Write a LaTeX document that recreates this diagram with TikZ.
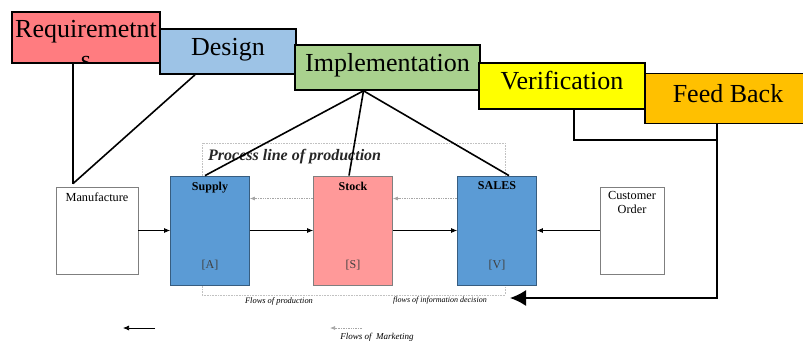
\documentclass[tikz,border=0pt]{standalone}
\usepackage{fontspec}
\setmainfont{Liberation Serif}
\usetikzlibrary{positioning,arrows.meta}

\definecolor{reqred}{HTML}{FF7C80}
\definecolor{designblue}{HTML}{9DC3E6}
\definecolor{implgreen}{HTML}{A9D18E}
\definecolor{verifyellow}{HTML}{FFFF00}
\definecolor{feedorange}{HTML}{FFC000}
\definecolor{flowblue}{HTML}{5B9BD5}
\definecolor{stockpink}{HTML}{FF9999}
\definecolor{edgegray}{HTML}{7F7F7F}
\definecolor{dotgray}{HTML}{A6A6A6}

\tikzset{
  phase/.style={draw, line width=1.6pt, inner sep=0pt, text height=18pt, text depth=11pt, font=\fontsize{26}{31}\selectfont},
  stage/.style={draw=edgegray, line width=0.8pt, inner sep=0pt, minimum width=79pt, minimum height=109pt},
  sidebox/.style={draw=edgegray, line width=0.8pt, inner sep=0pt, minimum height=87pt},
  boxtitle/.style={font=\fontsize{12}{14}\selectfont\bfseries, inner sep=0pt},
  boxtag/.style={font=\fontsize{12}{14}\selectfont, text=black!75, inner sep=0pt},
  link/.style={line width=1.6pt},
  flow/.style={line width=0.7pt, -{Latex[length=6pt,width=5pt]}},
  info/.style={draw=dotgray, densely dotted, line width=0.7pt, -{Latex[length=5pt,width=4pt]}},
  note/.style={font=\fontsize{8.4}{10}\selectfont\itshape, inner sep=0pt}
}

\begin{document}
\begin{tikzpicture}[x=1pt, y=-1pt]
  \useasboundingbox (0,0) rectangle (803,343);

  % Phases
  \node[phase, fill=reqred, minimum width=148pt, minimum height=51pt] (Req) at (86,37.5) {};
  \begin{scope}
    \clip ([shift={(0.8pt,0.8pt)}]Req.south west) rectangle ([shift={(-0.8pt,-0.8pt)}]Req.north east);
    \node[font=\fontsize{26}{31}\selectfont, align=center, anchor=base, inner sep=0pt] (Req-text) at (86,68) {Requiremetnt\\s};
  \end{scope}
  \node[phase, fill=designblue, minimum width=136pt, minimum height=45pt] (Design) at (228,51.5) {Design};
  \node[phase, fill=implgreen, minimum width=185pt, minimum height=45pt] (Impl) at (387.5,67.5) {Implementation};
  \node[phase, fill=verifyellow, minimum width=166pt, minimum height=46pt] (Verif) at (562,86) {Verification};
  \node[phase, fill=feedorange, minimum width=166pt, minimum height=50pt] (Feed) at (728,98.5) {Feed Back};

  % Process line
  \node[draw=dotgray!70, densely dotted, line width=0.6pt, minimum width=303pt, minimum height=152pt] (Process) at (353.5,219) {};
  \node[font=\fontsize{16}{19}\selectfont\bfseries\itshape, text=black!85, anchor=west, inner sep=0pt] (Process-title) at (208,157) {Process line of production};

  \node[sidebox, minimum width=82pt, label={[font=\fontsize{12.3}{14}\selectfont, inner sep=0pt, anchor=north, yshift=-6pt]north:Manufacture}] (Mfg) at (97,230.5) {};
  \node[stage, fill=flowblue, draw=flowblue!60!black, label={[boxtitle, anchor=north, yshift=-6pt]north:Supply}, label={[boxtag, anchor=south, yshift=15pt]south:{[A]}}] (Supply) at (210,230.5) {};
  \node[stage, fill=stockpink, label={[boxtitle, anchor=north, yshift=-6pt]north:Stock}, label={[boxtag, anchor=south, yshift=15pt]south:{[S]}}] (Stock) at (353,230.5) {};
  \node[stage, fill=flowblue, draw=flowblue!60!black, label={[boxtitle, anchor=north, yshift=-6pt]north:SALES}, label={[boxtag, anchor=south, yshift=15pt]south:{[V]}}] (Sales) at (497,230.5) {};
  \node[sidebox, minimum width=64pt, label={[font=\fontsize{12.3}{13.5}\selectfont, align=center, inner sep=0pt, anchor=north, yshift=-5pt]north:Customer\\Order}] (Order) at (632,230.5) {};

  % Links from the phases
  \coordinate (Mfg-join) at ([xshift=-24pt, yshift=3pt]Mfg.north);
  \draw[link] ([xshift=-13pt]Req.south) -- (Mfg-join);
  \draw[link] ([xshift=-33pt]Design.south) -- (Mfg-join);
  \draw[link] ([xshift=-24pt]Impl.south) -- ([xshift=-5pt]Supply.north);
  \draw[link] ([xshift=-24pt]Impl.south) -- ([xshift=-4pt]Stock.north);
  \draw[link] ([xshift=-24pt]Impl.south) -- ([xshift=12pt]Sales.north);

  % Feed back loop
  \coordinate (Feed-turn) at (717,140);
  \coordinate (Feed-end) at (510,298);
  \draw[link] ([xshift=12pt]Verif.south) |- (Feed-turn);
  \draw[link, -{Latex[length=16pt,width=16pt]}] ([xshift=-11pt]Feed.south) |- (Feed-end);

  % Flows
  \draw[flow] (Mfg) -- (Supply);
  \draw[flow] (Supply) -- (Stock);
  \draw[flow] (Stock) -- (Sales);
  \draw[flow] (Order) -- (Sales);
  \draw[info] ([yshift=32pt]Stock.west) -- ([yshift=32pt]Supply.east);
  \draw[info] ([yshift=32pt]Sales.west) -- ([yshift=32pt]Stock.east);

  \node[note] (Prod-note) at (279,301) {Flows of production};
  \node[note, font=\fontsize{8}{10}\selectfont\itshape] (Info-note) at (440,301) {flows of information decision};

  % Legend
  \coordinate (Legend-a) at (155,328);
  \coordinate (Legend-b) at (123,328);
  \coordinate (Legend-c) at (362,328);
  \coordinate (Legend-d) at (330,328);
  \draw[flow] (Legend-a) -- (Legend-b);
  \draw[info] (Legend-c) -- (Legend-d);
  \node[note, font=\fontsize{9}{10}\selectfont\itshape] (Market-note) at (377,337) {Flows of~~Marketing};
\end{tikzpicture}
\end{document}
